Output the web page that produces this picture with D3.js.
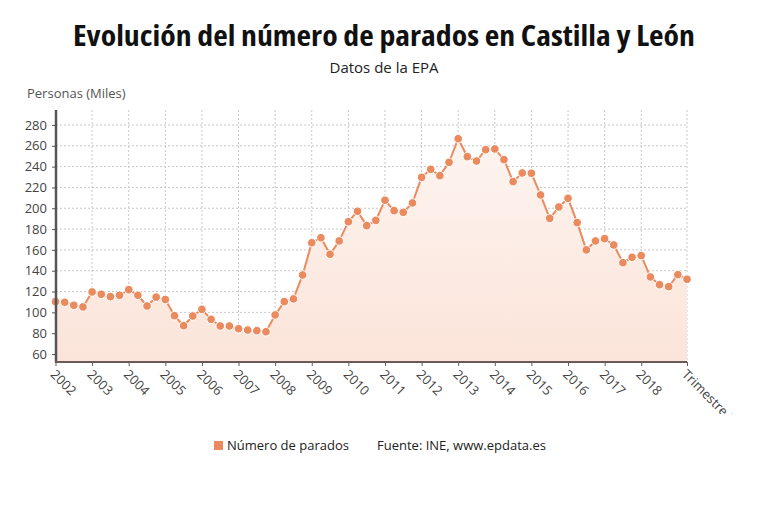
<!DOCTYPE html>
<html>
<head>
<meta charset="utf-8">
<script src="https://cdn.jsdelivr.net/npm/d3@7"></script>
<style>
  body { margin: 0; background: #fff; }
  text { font-family: 'Open Sans', sans-serif; }
</style>
</head>
<body>
<div id="graphContainer"></div>
<script>
// quarterly data, 2002 T1 .. 2019 T2 (miles de personas)
const years = [2002, 2003, 2004, 2005, 2006, 2007, 2008, 2009, 2010, 2011, 2012, 2013, 2014, 2015, 2016, 2017, 2018, 2019]
const quarters = ['T1', 'T2', 'T3', 'T4']
const parados = [
  110.3, 109.7, 106.8, 105.2,
  119.6, 117.4, 115.1, 116.4,
  121.8, 116.4, 106.1, 114.6,
  112.3, 96.8, 87.2, 96.5,
  102.9, 93.3, 86.9, 86.9,
  84.3, 83.0, 82.4, 81.4,
  97.5, 110.3, 112.9, 135.9,
  166.9, 171.7, 155.8, 168.6,
  187.1, 197.1, 183.3, 188.4,
  207.7, 197.7, 196.1, 205.1,
  229.7, 237.4, 231.3, 244.1,
  266.8, 249.6, 245.4, 256.3,
  257.0, 246.7, 225.6, 233.9,
  233.6, 212.8, 190.3, 201.2,
  209.6, 186.2, 160.0, 168.6,
  170.8, 164.7, 147.7, 152.9,
  154.5, 134.0, 126.6, 124.7,
  136.2, 131.8
]
const yTicks = [60, 80, 100, 120, 140, 160, 180, 200, 220, 240, 260, 280]
const lastLabel = 'Trimestre 2 2019'

let periods = []
years.forEach((y) => quarters.forEach((q) => periods.push(y + ' ' + q)))
periods = periods.slice(0, parados.length)
const data = periods.map((p, i) => ({ period: p, value: parados[i] }))
const tickPeriods = periods.filter((p) => p.endsWith('T1') && !p.startsWith('2019')).concat([periods[periods.length - 1]])

let svgWidth = 768,
  svgHeight = 518
let color = '#e98b5e'

let svg = d3
  .select('#graphContainer')
  .append('svg')
  .attr('width', svgWidth)
  .attr('height', svgHeight)

let defs = svg.append('defs')
let grad = defs.append('linearGradient')
  .attr('id', 'areaGrad')
  .attr('x1', 0).attr('y1', 0).attr('x2', 0).attr('y2', 1)
grad.append('stop').attr('offset', '0%').attr('stop-color', '#fdf4f0')
grad.append('stop').attr('offset', '100%').attr('stop-color', '#fbe4d9')
defs.append('clipPath').attr('id', 'labelClip')
  .append('rect').attr('x', 0).attr('y', 0).attr('width', svgWidth).attr('height', 414)

// title
svg.append('text')
  .attr('x', 384).attr('y', 46)
  .attr('text-anchor', 'middle')
  .attr('textLength', 622)
  .attr('lengthAdjust', 'spacingAndGlyphs')
  .style('font-size', '28px')
  .style('font-weight', 700)
  .style('font-stretch', '75%')
  .attr('fill', '#111')
  .text('Evolución del número de parados en Castilla y León')

svg.append('text')
  .attr('x', 384).attr('y', 73)
  .attr('text-anchor', 'middle')
  .attr('textLength', 109)
  .attr('lengthAdjust', 'spacingAndGlyphs')
  .style('font-size', '14.5px')
  .attr('fill', '#222')
  .text('Datos de la EPA')

svg.append('text')
  .attr('x', 27).attr('y', 98)
  .style('font-size', '13px')
  .attr('fill', '#555')
  .text('Personas (Miles)')

// scales
let x = d3.scalePoint().domain(periods).range([55.5, 687])
let y = d3.scaleLinear().domain([52.3, 294.4]).range([362, 110])

let g = svg.append('g')

// grid
g.append('g')
  .selectAll('line')
  .data(yTicks)
  .enter()
  .append('line')
  .attr('x1', 56).attr('x2', 687)
  .attr('y1', (d) => y(d)).attr('y2', (d) => y(d))
  .attr('stroke', '#c8c8c8')
  .attr('stroke-dasharray', '2,2')

g.append('g')
  .selectAll('line')
  .data(tickPeriods)
  .enter()
  .append('line')
  .attr('x1', (d) => x(d)).attr('x2', (d) => x(d))
  .attr('y1', 110).attr('y2', 362)
  .attr('stroke', '#c8c8c8')
  .attr('stroke-dasharray', '2,2')

// area
g.append('path')
  .datum(data)
  .attr('fill', 'url(#areaGrad)')
  .attr('d', d3.area()
    .x((d) => x(d.period))
    .y0(y(52.3))
    .y1((d) => y(d.value)))

// line
g.append('path')
  .datum(data)
  .attr('fill', 'none')
  .attr('stroke', color)
  .attr('stroke-width', 2)
  .attr('d', d3.line()
    .x((d) => x(d.period))
    .y((d) => y(d.value)))

g.append('g')
  .selectAll('circle')
  .data(data)
  .enter()
  .append('circle')
  .attr('cx', (d) => x(d.period))
  .attr('cy', (d) => y(d.value))
  .attr('r', 4.3)
  .attr('fill', color)
  .attr('stroke', '#fff')
  .attr('stroke-width', 1)

// y axis
let yAxis = svg.append('g')
  .attr('transform', 'translate(56,0)')
  .call(d3.axisLeft(y).tickValues(yTicks).tickSize(4).tickPadding(5))
yAxis.select('.domain').attr('stroke', '#555').attr('stroke-width', 2.5)
  .attr('d', 'M0,110V362')
yAxis.selectAll('.tick line').attr('stroke', '#555')
yAxis.selectAll('.tick text')
  .style('font-size', '13px')
  .attr('fill', '#444')

// x axis, labels clipped at the bottom like the original
let xAxis = svg.append('g')
  .attr('clip-path', 'url(#labelClip)')
xAxis.append('g')
  .attr('transform', 'translate(0,362)')
  .call(d3.axisBottom(x).tickValues(tickPeriods).tickSize(4)
    .tickFormat((d) => (d.startsWith('2019') ? lastLabel : d.slice(0, 4))))
  .call((a) => a.select('.domain').attr('stroke', '#6b5a55').attr('stroke-width', 2).attr('d', 'M55,0H687'))
  .call((a) => a.selectAll('.tick line').attr('stroke', '#6b5a55'))
  .call((a) => a.selectAll('.tick text')
    .style('font-size', '13px')
    .attr('fill', '#444')
    .attr('text-anchor', 'start')
    .attr('transform', 'translate(-3,10) rotate(45)')
    .attr('dy', '0.35em')
    .attr('y', 0))

// legend
svg.append('rect')
  .attr('x', 214).attr('y', 441).attr('width', 9).attr('height', 9)
  .attr('fill', color)
svg.append('text')
  .attr('x', 227).attr('y', 450)
  .style('font-size', '13px')
  .attr('fill', '#222')
  .text('Número de parados')
svg.append('text')
  .attr('x', 377).attr('y', 450)
  .style('font-size', '13px')
  .attr('fill', '#222')
  .text('Fuente: INE, www.epdata.es')
</script>
</body>
</html>
